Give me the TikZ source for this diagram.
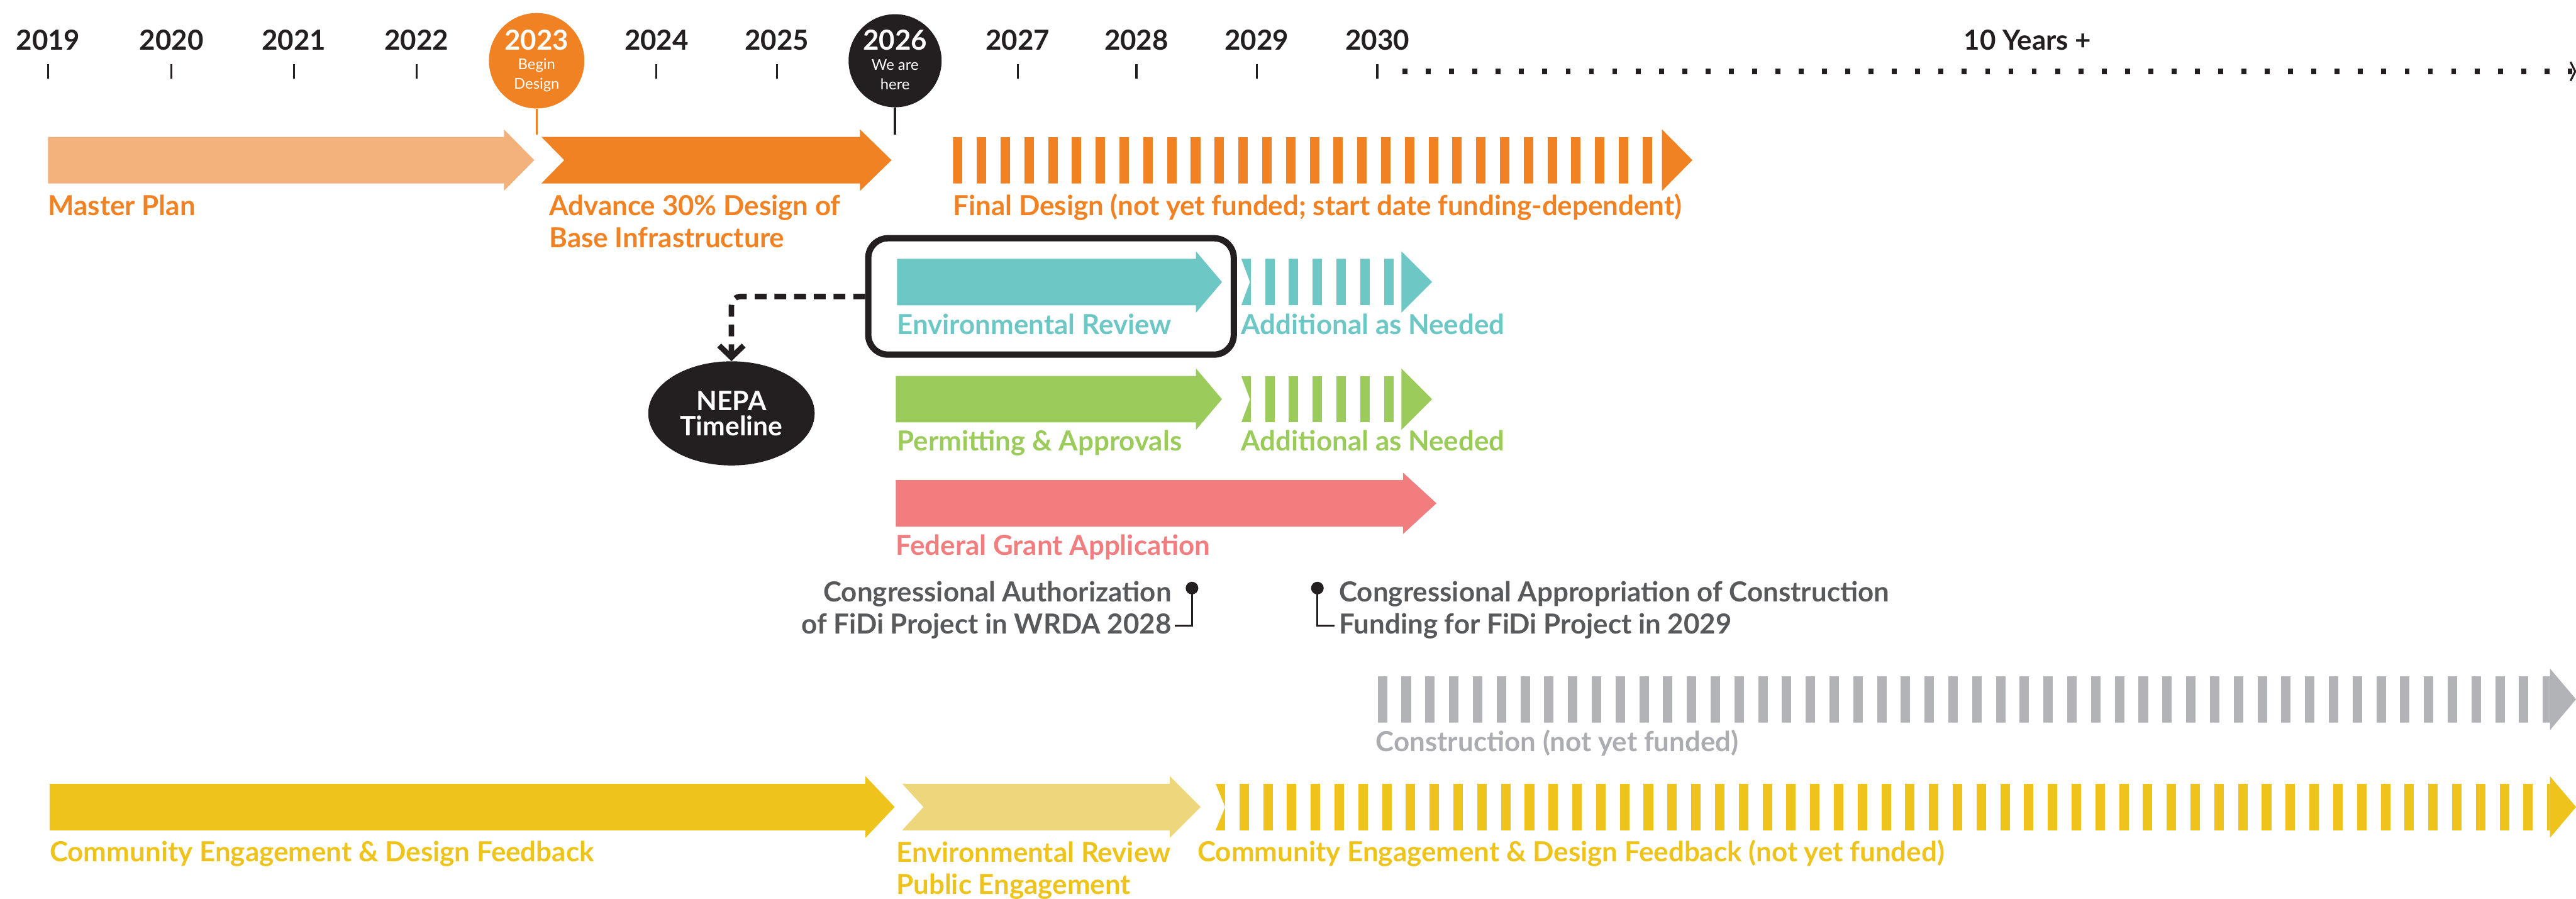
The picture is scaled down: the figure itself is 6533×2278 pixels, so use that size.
\documentclass[tikz,border=0pt]{standalone}
\usepackage{fontspec}
\setmainfont{Lato}
\usetikzlibrary{arrows.meta,shapes.geometric}

\definecolor{blk}{HTML}{231F20}
\definecolor{orangeL}{HTML}{F3B17B}
\definecolor{orangeD}{HTML}{F08223}
\definecolor{teal}{HTML}{6CC7C5}
\definecolor{green}{HTML}{9BCB5A}
\definecolor{salmon}{HTML}{F17D7F}
\definecolor{stone}{HTML}{B1B3B6}
\definecolor{stonetext}{HTML}{ABADB0}
\definecolor{yellowD}{HTML}{EEC31B}
\definecolor{yellowL}{HTML}{EDD67C}
\definecolor{inkgray}{HTML}{58595B}

\newcommand{\lblfont}{\fontsize{70}{81}\selectfont\bfseries}
\newcommand{\subfont}{\fontsize{38}{49}\selectfont}
\newcommand{\nepafont}{\fontsize{68}{63}\selectfont\bfseries}

% solid arrow: colour, start x, notch depth, head base x, tip x, centre y
\newcommand{\solidarrow}[6]{%
  \fill[#1] (#2,#6-59) -- (#4,#6-59) -- (#4,#6-78) -- (#5,#6) -- (#4,#6+78)
     -- (#4,#6+59) -- (#2,#6+59) -- (#2+#3,#6) -- cycle;}

% striped arrow: colour, start x, notch depth, head base x, tip x, centre y, stripes
\newcommand{\stripedarrow}[7]{%
  \begin{scope}
    \clip (#2,#6-59) -- (#4,#6-59) -- (#4,#6+59) -- (#2,#6+59) -- (#2+#3,#6) -- cycle;
    \foreach \k in {0,...,#7} \fill[#1] (#2+60.3*\k,#6-59) rectangle ++(24,118);
  \end{scope}
  \fill[#1] (#4,#6-78) -- (#5,#6) -- (#4,#6+78) -- cycle;}

\begin{document}
\begin{tikzpicture}[x=1pt,y=-1pt,
  lbl/.style={font=\lblfont, inner sep=0pt, anchor=base west, align=left},
  yr/.style={font=\lblfont, inner sep=0pt, anchor=base, text=blk},
  sub/.style={font=\subfont, inner sep=0pt, anchor=base, align=center, text=white},
  tickmark/.style={line width=5pt, draw=blk},
  pin/.style={circle, fill=blk, minimum size=32pt, inner sep=0pt},
  pinline/.style={line width=5pt, draw=blk},
]
\path[use as bounding box] (0,0) rectangle (6533,2278);

% ---------- time axis ----------
\foreach \x/\y in {122/2019,435/2020,745/2021,1056/2022,1665/2024,1970/2025,
                   2581/2027,2882/2028,3187/2029,3493/2030}{
  \node[yr] (y\y) at (\x,127) {\y};
  \draw[tickmark] (\x,162) -- (\x,199);
}
\node[yr] (y10) at (5142,127) {10 Years +};

\coordinate (axA) at (3557,181);
\coordinate (axB) at (6524,181);
\draw[blk, line width=13pt, dash pattern=on 12.5pt off 46.6pt] (axA) -- (axB);
\draw[blk, line width=5pt] (6519,157) -- (6531,181) -- (6519,205);

% milestone bubbles (multi-line nodes sit on the baseline of their last line)
\node[circle, fill=orangeD, minimum size=242pt, inner sep=0pt] (c2023) at (1361,154) {};
\node[yr, text=white] (l2023) at (1361,127) {2023};
\node[sub] (s2023) at (1361,226) {Begin\\Design};
\coordinate (st2023) at (1361,342);
\draw[orangeD, line width=5pt] (c2023.south) -- (st2023);

\node[circle, fill=blk, minimum size=236pt, inner sep=0pt] (c2026) at (2270,154) {};
\node[yr, text=white] (l2026) at (2270,127) {2026};
\node[sub] (s2026) at (2270,227) {We are\\here};
\coordinate (st2026) at (2270,342);
\draw[blk, line width=6pt] (c2026.south) -- (st2026);

% ---------- design row ----------
\solidarrow{orangeL}{122}{0}{1278}{1355}{406}
\solidarrow{orangeD}{1373}{58}{2181}{2261}{406}
\stripedarrow{orangeD}{2417}{0}{4215}{4292}{406}{30}
\node[lbl, text=orangeD] (lMaster) at (122,546) {Master Plan};
\node[lbl, text=orangeD] (lAdvance) at (1393,627) {Advance 30\% Design of\\Base Infrastructure};
\node[lbl, text=orangeD] (lFinal) at (2417,546) {Final Design (not yet funded; start date funding-dependent)};

% ---------- environmental review ----------
\solidarrow{teal}{2275}{0}{3033}{3099}{715}
\stripedarrow{teal}{3148}{22}{3554}{3632}{715}{7}
\node[lbl, text=teal] (lEnv) at (2275,847) {Environmental Review};
\node[lbl, text=teal] (lEnvAdd) at (3148,847) {Additional as Needed};

\node[draw=blk, line width=16pt, rounded corners=50pt, minimum width=927pt,
      minimum height=295pt, inner sep=0pt] (envbox) at (2665.5,751.5) {};

\node[ellipse, fill=blk, minimum width=422pt, minimum height=264pt, inner sep=0pt,
      text=white, font=\nepafont, align=center] (nepa) at (1855,1048) {NEPA\\Timeline};

\draw[blk, line width=14pt, dash pattern=on 30pt off 20pt, rounded corners=24pt,
      -{Straight Barb[length=30pt,width=62pt]}] (envbox.west) -| (nepa.north);

% ---------- permitting ----------
\solidarrow{green}{2272}{0}{3033}{3099}{1012}
\stripedarrow{green}{3148}{22}{3554}{3632}{1012}{7}
\node[lbl, text=green] (lPermit) at (2275,1143) {Permitting \& Approvals};
\node[lbl, text=green] (lPermitAdd) at (3148,1143) {Additional as Needed};

% ---------- federal grant ----------
\solidarrow{salmon}{2272}{0}{3558}{3643}{1276}
\node[lbl, text=salmon] (lGrant) at (2272,1407) {Federal Grant Application};

% ---------- congressional milestones ----------
\node[pin] (pinA) at (3023,1491) {};
\coordinate (pinAend) at (2980,1586);
\draw[pinline] (pinA.center) |- (pinAend);
\node[lbl, anchor=base east, align=right, text=inkgray] (lAuth) at (2971,1607)
  {Congressional Authorization\\of FiDi Project in WRDA 2028};

\node[pin] (pinB) at (3341,1491) {};
\coordinate (pinBend) at (3384,1586);
\draw[pinline] (pinB.center) |- (pinBend);
\node[lbl, text=inkgray] (lApprop) at (3396,1607)
  {Congressional Appropriation of Construction\\Funding for FiDi Project in 2029};

% ---------- construction ----------
\stripedarrow{stone}{3494}{0}{6467}{6533}{1773}{50}
\node[lbl, text=stonetext] (lBuild) at (3489,1905) {Construction (not yet funded)};

% ---------- community engagement ----------
\solidarrow{yellowD}{126}{0}{2195}{2269}{2046}
\solidarrow{yellowL}{2288}{54}{2967}{3045}{2046}
\stripedarrow{yellowD}{3083}{24}{6467}{6533}{2046}{57}
\node[lbl, text=yellowD] (lComm) at (126,2185) {Community Engagement \& Design Feedback};
\node[lbl, text=yellowD] (lPublic) at (2273,2267) {Environmental Review\\Public Engagement};
\node[lbl, text=yellowD] (lCommFut) at (3037,2185) {Community Engagement \& Design Feedback (not yet funded)};
\end{tikzpicture}
\end{document}
